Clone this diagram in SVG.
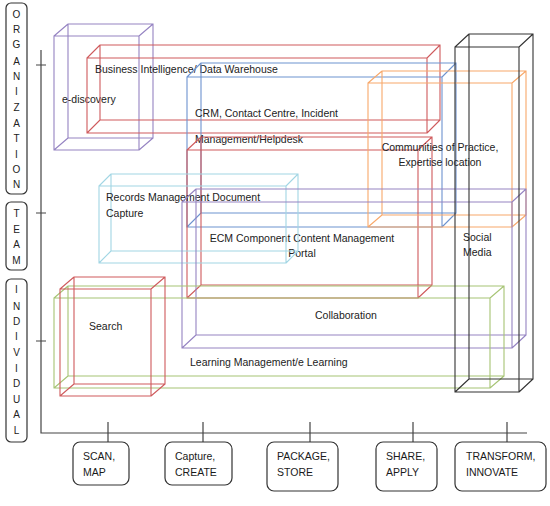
<svg xmlns="http://www.w3.org/2000/svg" width="550" height="506" viewBox="0 0 550 506">
<style>
.bx{fill:none;stroke-width:1.1}
.t{font-family:"Liberation Sans",Arial,sans-serif;font-size:10.5px;fill:#222}
.s{font-family:"Liberation Sans",Arial,sans-serif;font-size:10px;fill:#222}
.b{font-family:"Liberation Sans",Arial,sans-serif;font-size:10.5px;fill:#1a1a1a}
.c{text-anchor:middle}
.lab{fill:#fff;stroke:#333;stroke-width:1.2}
.ax{stroke:#444;stroke-width:1.2;fill:none}
</style>
<rect width="550" height="506" fill="#fff"/>
<g id="connectors">
<path class="ax" d="M41 50V433H527"/>
<path class="ax" d="M36 65H46M36 213H46M36 341H46"/>
<path class="ax" d="M108 422V442M203 422V442M310 422V442M413 422V442M507 422V442"/>
</g>
<g id="ediscovery">
<path class="bx" stroke="#9583c2" d="M54 36H139V150H54Z M68 24H153V138H68Z M54 36L68 24M139 36L153 24M139 150L153 138M54 150L68 138"/>
<text class="t" x="62" y="103">e-discovery</text>
</g>
<g id="bi">
<path class="bx" stroke="#cf5a5c" d="M87 58H427V133H87Z M100 45H440V120H100Z M87 58L100 45M427 58L440 45M427 133L440 120M87 133L100 120"/>
<text class="t" x="95" y="73">Business Intelligence/ Data Warehouse</text>
</g>
<g id="crm">
<path class="bx" stroke="#6d93cf" d="M187 77H442V227H187Z M201 63H456V213H201Z M187 77L201 63M442 77L456 63M442 227L456 213M187 227L201 213"/>
<text class="t" x="195" y="117">CRM, Contact Centre, Incident</text>
<text class="t" x="195" y="143">Management/Helpdesk</text>
</g>
<g id="ecm">
<path class="bx" stroke="#cf5a5c" d="M187 150H418V298H187Z M201 137H432V285H201Z M187 150L201 137M418 150L432 137M418 298L432 285M187 298L201 285"/>
<text class="t c" x="302" y="242">ECM Component Content Management</text>
<text class="t c" x="302" y="257">Portal</text>
</g>
<g id="communities">
<path class="bx" stroke="#f8a86a" d="M368 83H512V227H368Z M382 71H526V215H382Z M368 83L382 71M512 83L526 71M512 227L526 215M368 227L382 215"/>
<text class="t c" x="440" y="151">Communities of Practice,</text>
<text class="t c" x="440" y="166">Expertise location</text>
</g>
<g id="records">
<path class="bx" stroke="#a2d6e4" d="M99 186H286V263H99Z M111 174H298V251H111Z M99 186L111 174M286 186L298 174M286 263L298 251M99 263L111 251"/>
<text class="t" x="106" y="201">Records Management Document</text>
<text class="t" x="106" y="217">Capture</text>
</g>
<g id="collaboration">
<path class="bx" stroke="#9583c2" d="M182 202H512V348H182Z M196 189H526V335H196Z M182 202L196 189M512 202L526 189M512 348L526 335M182 348L196 335"/>
<text class="t" x="315" y="319">Collaboration</text>
</g>
<g id="learning">
<path class="bx" stroke="#a6c474" d="M54 298H490V388H54Z M68 286H504V376H68Z M54 298L68 286M490 298L504 286M490 388L504 376M54 388L68 376"/>
<text class="t" x="190" y="366">Learning Management/e Learning</text>
</g>
<g id="search">
<path class="bx" stroke="#cf5a5c" d="M60 289H151V396H60Z M74 277H165V384H74Z M60 289L74 277M151 289L165 277M151 396L165 384M60 396L74 384"/>
<text class="t" x="89" y="330">Search</text>
</g>
<g id="social">
<path class="bx" stroke="#333" d="M455 47H519V392H455Z M469 34H533V379H469Z M455 47L469 34M519 47L533 34M519 392L533 379M455 392L469 379"/>
<text class="t" x="463" y="241">Social</text>
<text class="t" x="463" y="256">Media</text>
</g>
<g id="organization">
<rect class="lab" x="6" y="3" width="21" height="191" rx="5"/>
<g class="s c">
<text x="16.5" y="18">O</text><text x="16.5" y="33">R</text><text x="16.5" y="48">G</text><text x="16.5" y="65">A</text><text x="16.5" y="80">N</text><text x="16.5" y="95">I</text><text x="16.5" y="111">Z</text><text x="16.5" y="127">A</text><text x="16.5" y="142">T</text><text x="16.5" y="158">I</text><text x="16.5" y="173">O</text><text x="16.5" y="188">N</text>
</g>
</g>
<g id="team">
<rect class="lab" x="6" y="202" width="21" height="68" rx="5"/>
<g class="s c">
<text x="16.5" y="217">T</text><text x="16.5" y="233">E</text><text x="16.5" y="248">A</text><text x="16.5" y="264">M</text>
</g>
</g>
<g id="individual">
<rect class="lab" x="6" y="279" width="21" height="163" rx="5"/>
<g class="s c">
<text x="16.5" y="293">I</text><text x="16.5" y="310">N</text><text x="16.5" y="325">D</text><text x="16.5" y="340">I</text><text x="16.5" y="356">V</text><text x="16.5" y="372">I</text><text x="16.5" y="387">D</text><text x="16.5" y="403">U</text><text x="16.5" y="418">A</text><text x="16.5" y="434">L</text>
</g>
</g>
<g id="scan">
<rect class="lab" x="73" y="442" width="56" height="43" rx="7"/>
<text class="b" x="83" y="460">SCAN,</text><text class="b" x="83" y="476">MAP</text>
</g>
<g id="capture">
<rect class="lab" x="165" y="442" width="67" height="43" rx="7"/>
<text class="b" x="175" y="460">Capture,</text><text class="b" x="175" y="476">CREATE</text>
</g>
<g id="package">
<rect class="lab" x="267" y="442" width="71" height="49" rx="7"/>
<text class="b" x="277" y="460">PACKAGE,</text><text class="b" x="277" y="476">STORE</text>
</g>
<g id="share">
<rect class="lab" x="376" y="442" width="61" height="49" rx="7"/>
<text class="b" x="386" y="460">SHARE,</text><text class="b" x="386" y="476">APPLY</text>
</g>
<g id="transform">
<rect class="lab" x="455" y="442" width="91" height="49" rx="7"/>
<text class="b" x="466" y="460">TRANSFORM,</text><text class="b" x="466" y="476">INNOVATE</text>
</g>
</svg>
